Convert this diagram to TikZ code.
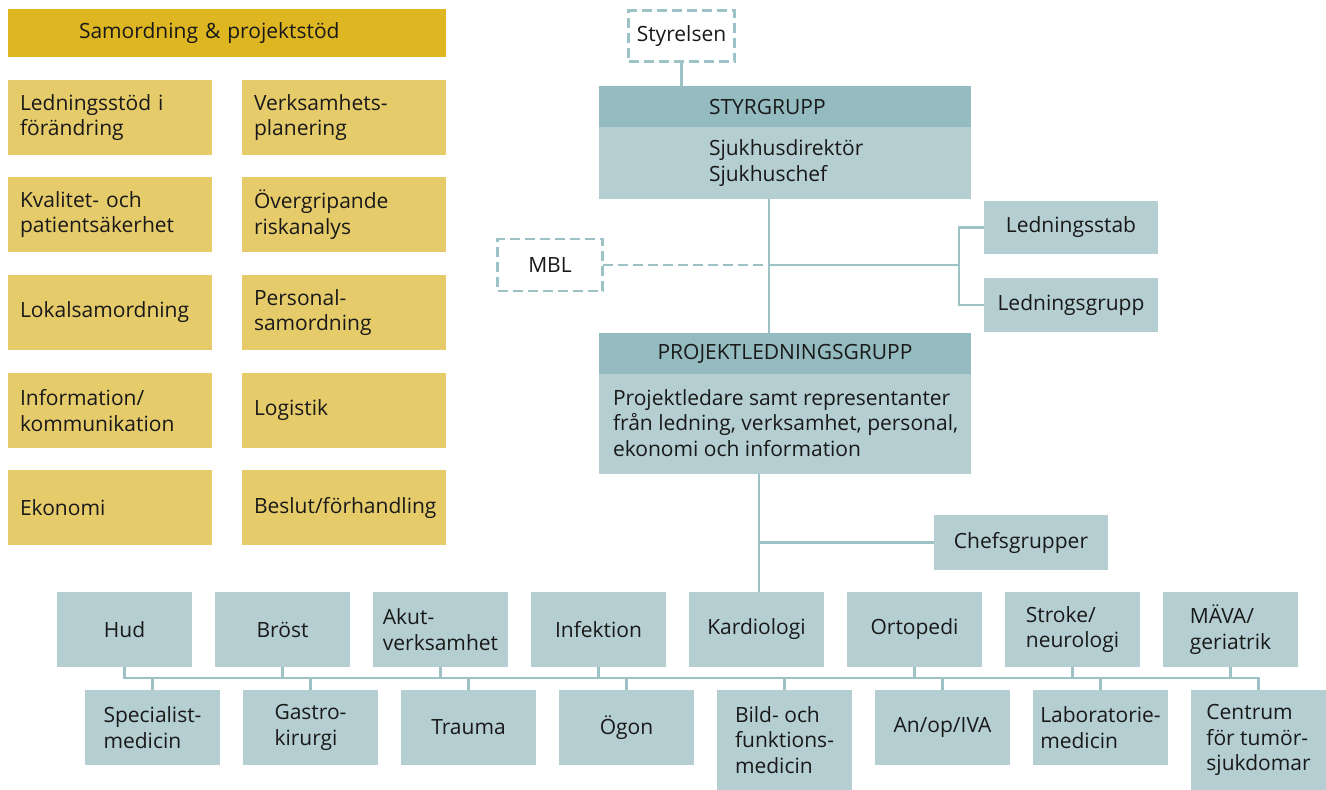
\documentclass[tikz,border=0pt]{standalone}
\usepackage{fontspec}
\setmainfont{Open Sans}
\definecolor{gold}{HTML}{DEB621}
\definecolor{sand}{HTML}{E6CB6B}
\definecolor{tealbox}{HTML}{B4CED2}
\definecolor{tealhead}{HTML}{94BBC0}
\definecolor{tealline}{HTML}{9CC2C6}
\tikzset{
  box/.style={rectangle, inner sep=0pt, outer sep=0pt, align=left, text=black!90},
  sandbox/.style={box, fill=sand, minimum width=204pt, minimum height=75pt, text width=180pt},
  unitbox/.style={box, fill=tealbox, minimum width=135pt, minimum height=75pt},
  tallbox/.style={unitbox, minimum height=100pt},
  sidebox/.style={box, fill=tealbox, minimum width=174pt, minimum height=54pt},
  dashbox/.style={box, draw=tealline, line width=2.5pt, dash pattern=on 10pt off 5pt, fill=white},
  link/.style={draw=tealline, line width=2.5pt},
  dashlink/.style={link, dash pattern=on 10pt off 5pt}
}
\begin{document}
\begin{tikzpicture}[x=1pt, y=-1pt, font=\fontsize{21}{25.5}\selectfont]
\useasboundingbox (0,0) rectangle (1326,790);

% support functions
\node[box, fill=gold, minimum width=438pt, minimum height=48pt,
      inner xsep=71pt, text width=296pt] (samord) at (227,33) {Samordning \& projektstöd};
\node[sandbox] (s1) at (110,117.5) {Ledningsstöd i\\förändring};
\node[sandbox] (s2) at (344,117.5) {Verksamhets-\\planering};
\node[sandbox] (s3) at (110,214.5) {Kvalitet- och\\patientsäkerhet};
\node[sandbox] (s4) at (344,214.5) {Övergripande\\riskanalys};
\node[sandbox] (s5) at (110,312.5) {Lokalsamordning};
\node[sandbox] (s6) at (344,312.5) {Personal-\\samordning};
\node[sandbox] (s7) at (110,410.5) {Information/\\kommunikation};
\node[sandbox] (s8) at (344,410.5) {Logistik};
\node[sandbox] (s9) at (110,507.5) {Ekonomi};
\node[sandbox] (s10) at (344,507.5) {Beslut/förhandling};

% governance
\node[dashbox, minimum width=106pt, minimum height=51pt] (styrelsen) at (681.5,36) {Styrelsen};
\node[box, fill=tealhead, minimum width=372pt, minimum height=41pt,
      inner xsep=110pt, text width=152pt] (styrhead) at (785,106.5) {STYRGRUPP};
\node[box, fill=tealbox, minimum width=372pt, minimum height=72pt,
      inner xsep=110pt, text width=152pt] (styrbody) at (785,163) {Sjukhusdirektör\\Sjukhuschef};
\node[dashbox, minimum width=105pt, minimum height=52pt] (mbl) at (550,265) {MBL};
\node[sidebox, minimum height=53pt] (stab) at (1071,227.5) {Ledningsstab};
\node[sidebox] (lgrp) at (1071,305) {Ledningsgrupp};

% project management
\node[box, fill=tealhead, minimum width=372pt, minimum height=41pt, align=center] (plghead) at (785,353.5) {PROJEKTLEDNINGSGRUPP};
\node[box, fill=tealbox, minimum width=372pt, minimum height=100pt] (plgbody) at (785,424) {};
\node[box, anchor=west] (plgtext) at (613,423)
      {Projektledare samt representanter\\från ledning, verksamhet, personal,\\ekonomi och information};
\node[sidebox, minimum height=55pt] (chef) at (1021,542.5) {Chefsgrupper};

% units, upper row
\node[unitbox] (hud)    at (124.5,629.5) {Hud};
\node[unitbox] (brost)  at (282.5,629.5) {Bröst};
\node[unitbox] (akut)   at (440.5,629.5) {Akut-\\verksamhet};
\node[unitbox] (infekt) at (598.5,629.5) {Infektion};
\node[unitbox] (kard)   at (756.5,629.5) {Kardiologi};
\node[unitbox] (orto)   at (914.5,629.5) {Ortopedi};
\node[unitbox] (stroke) at (1072.5,629.5) {Stroke/\\neurologi};
\node[unitbox] (mava)   at (1230.5,629.5) {MÄVA/\\geriatrik};

% units, lower row
\node[unitbox] (spec)    at (152.5,727.5) {Specialist-\\medicin};
\node[unitbox] (gastro)  at (310.5,727.5) {Gastro-\\kirurgi};
\node[unitbox] (trauma)  at (468.5,727.5) {Trauma};
\node[unitbox] (ogon)    at (626.5,727.5) {Ögon};
\node[tallbox] (bild)    at (784.5,740) {Bild- och\\funktions-\\medicin};
\node[unitbox] (anop)    at (942.5,727.5) {An/op/IVA};
\node[unitbox] (lab)     at (1100.5,727.5) {Laboratorie-\\medicin};
\node[tallbox] (centrum) at (1258.5,740) {Centrum\\för tumör-\\sjukdomar};

% connectors
\coordinate (spine) at (769,0);
\coordinate (fork)  at (959,0);
\coordinate (trunk) at (759,0);
\coordinate (bus)   at (0,678);

\draw[link] (styrelsen.south) -- (styrelsen.south |- styrhead.north);
\draw[link] (styrbody.south -| spine) -- (plghead.north -| spine);
\draw[dashlink] (mbl.east) -- (mbl.east -| spine);
\draw[link] (mbl.east -| spine) -- (mbl.east -| fork);
\draw[link] (stab.west) -- (stab.west -| fork) -- (lgrp.west -| fork) -- (lgrp.west);
\draw[link] (plgbody.south -| trunk) -- (kard.north -| trunk);
\draw[link] (chef.west) -- (chef.west -| trunk);

\draw[link] (hud.south) -- (hud.south |- bus) -- (centrum.north |- bus) -- (centrum.north);
\foreach \n in {brost,akut,infekt,orto,stroke,mava}
  \draw[link] (\n.south) -- (\n.south |- bus);
\foreach \n in {spec,gastro,trauma,ogon,bild,anop,lab}
  \draw[link] (\n.north) -- (\n.north |- bus);
\end{tikzpicture}
\end{document}
